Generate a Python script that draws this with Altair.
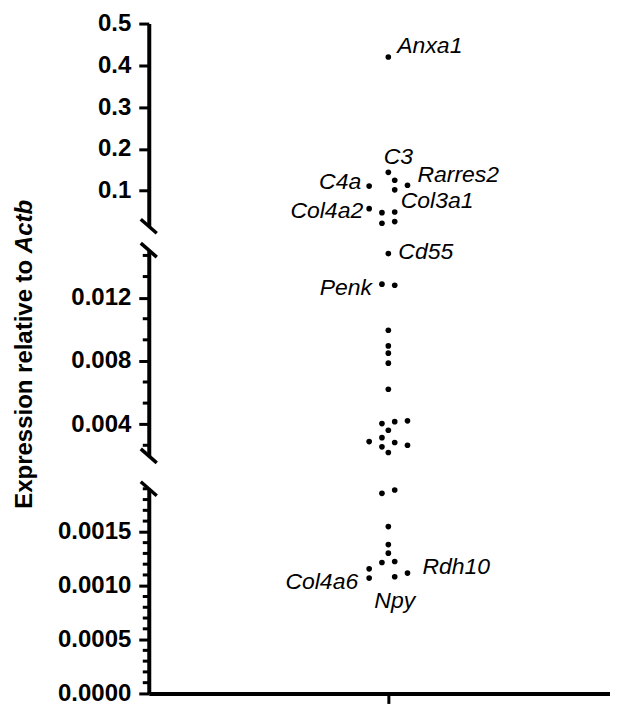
import altair as alt
import pandas as pd

FONT = "Liberation Sans, Arial, Helvetica, sans-serif"

# ---- data ----
# upper segment (0.015 - 0.5)
top_value = [0.42, 0.144, 0.125, 0.113, 0.111, 0.102, 0.057, 0.0475, 0.049, 0.022, 0.026]
top_slot = [0, 0, 1, 3, -3, 1, -3, -1, 1, -1, 1]
top_gene = ["Anxa1", "C3", "", "Rarres2", "C4a", "", "Col4a2", "", "Col3a1", "", ""]

# middle segment (0.002 - 0.015)
mid_value = [0.01478, 0.01285, 0.01278, 0.00994, 0.00895, 0.00849, 0.00786, 0.00621,
             0.00404, 0.00416, 0.00421, 0.00362, 0.0029, 0.00315, 0.00284, 0.00267,
             0.00257, 0.00221]
mid_slot = [0, -1, 1, 0, 0, 0, 0, 0, -1, 1, 3, 0, -3, -1, 1, 3, -1, 0]
mid_gene = ["Cd55", "Penk", "", "", "", "", "", "", "", "", "", "", "", "", "", "", "", ""]

# lower segment (0 - 0.0019)
bot_value = [0.001858, 0.001889, 0.001549, 0.001382, 0.001302, 0.001216, 0.001225,
             0.001157, 0.001071, 0.001083, 0.001117]
bot_slot = [-1, 1, 0, 0, 0, -1, 1, -3, -3, 1, 3]
bot_gene = ["", "", "", "", "", "", "", "", "Col4a6", "Npy", "Rdh10"]

# axis ticks
top_major = [0.1, 0.2, 0.3, 0.4, 0.5]
top_minor = []
mid_major = [0.004, 0.008, 0.012]
mid_minor = [0.002667, 0.005333, 0.006667, 0.009333, 0.010667, 0.013333, 0.014667]
bot_major = [0.0, 0.0005, 0.001, 0.0015]
bot_minor = [0.0001, 0.0002, 0.0003, 0.0004, 0.0006, 0.0007, 0.0008, 0.0009,
             0.0011, 0.0012, 0.0013, 0.0014, 0.0016, 0.0017, 0.0018, 0.0019]

# label placement (align, dx, dy) — styling, kept separate from data
label_place = {
    "Anxa1": ("left", 9, -11),
    "C3": ("center", 10, -15),
    "Rarres2": ("left", 10, -10),
    "C4a": ("right", -8, -4),
    "Col3a1": ("left", 6, -11),
    "Col4a2": ("right", -6, 2),
    "Cd55": ("left", 10, -2),
    "Penk": ("right", -10, 4),
    "Rdh10": ("left", 15, -6),
    "Col4a6": ("right", -11, 4),
    "Npy": ("center", 0, 24),
}

W = 462
X_DOMAIN = [-37.5, 34.7]
AXW = 4


def brk(y_px):
    return alt.Chart(pd.DataFrame({"b": [0]})).mark_rule(
        color="black", strokeWidth=3.5
    ).encode(x=alt.value(-8), x2=alt.value(8), y=alt.value(y_px - 7), y2=alt.value(y_px + 7))


def panel(values, slots, genes, domain, height, major, minor, fmt,
          breaks, show_x=False, extra=None):
    df = pd.DataFrame({"value": values, "slot": slots, "gene": genes})
    xaxis = alt.Axis(values=[0], labels=False, title=None, tickSize=10, tickWidth=3,
                     domainWidth=AXW) if show_x else None
    x = alt.X("slot:Q", scale=alt.Scale(domain=X_DOMAIN, nice=False, zero=False), axis=xaxis)
    y = alt.Y("value:Q", scale=alt.Scale(domain=domain, nice=False, zero=False),
              axis=alt.Axis(values=major, format=fmt, title=None, tickSize=10,
                            tickWidth=3, domainWidth=AXW, labelPadding=8))
    layers = [alt.Chart(df).mark_circle(size=32, color="black", opacity=1).encode(x=x, y=y)]
    for g in genes:
        if not g:
            continue
        al, dx, dy = label_place[g]
        layers.append(
            alt.Chart(df).transform_filter(alt.datum.gene == g).mark_text(
                align=al, baseline="middle", dx=dx, dy=dy, font=FONT, fontSize=23,
                fontStyle="italic", color="black"
            ).encode(x=x, y=y, text="gene:N")
        )
    if minor:
        mdf = pd.DataFrame({"value": minor})
        layers.append(alt.Chart(mdf).mark_rule(color="black", strokeWidth=3).encode(
            y=y, x=alt.value(-6), x2=alt.value(0)))
    for b in breaks:
        layers.append(brk(b))
    if extra:
        layers.extend(extra)
    return alt.layer(*layers).properties(width=W, height=height)


TOP_H, MID_H, BOT_H = 203, 206, 205

title_a = alt.Chart(pd.DataFrame({"t": ["Expression relative to"]})).mark_text(
    angle=270, align="right", baseline="middle", font=FONT, fontSize=24,
    fontWeight="bold", color="black"
).encode(x=alt.value(-124), y=alt.value(9.6), text="t:N")
title_b = alt.Chart(pd.DataFrame({"t": ["Actb"]})).mark_text(
    angle=270, align="left", baseline="middle", font=FONT, fontSize=24,
    fontWeight="bold", fontStyle="italic", color="black"
).encode(x=alt.value(-124), y=alt.value(3), text="t:N")

top = panel(top_value, top_slot, top_gene, [0.015, 0.5], TOP_H, top_major, top_minor,
            ".1f", [TOP_H])
mid = panel(mid_value, mid_slot, mid_gene, [0.002, 0.015], MID_H, mid_major, mid_minor,
            ".3f", [0, MID_H], extra=[title_a, title_b])
bot = panel(bot_value, bot_slot, bot_gene, [0, 0.0019], BOT_H, bot_major, bot_minor,
            ".4f", [0], show_x=True)

inner = alt.vconcat(mid, bot, spacing=33, bounds="flush").resolve_scale(
    x="independent", y="independent")
chart = alt.vconcat(top, inner, spacing=24, bounds="flush").resolve_scale(
    x="independent", y="independent"
).properties(
    padding={"left": 4, "top": 3, "right": 0, "bottom": 0}, background="white"
).configure_view(stroke=None).configure_axis(
    grid=False, domainColor="black", tickColor="black", labelColor="black",
    labelFont=FONT, labelFontSize=24, labelFontWeight="bold"
).configure_text(font=FONT)

chart.save("out.html", embed_options={"renderer": "svg", "actions": False})
